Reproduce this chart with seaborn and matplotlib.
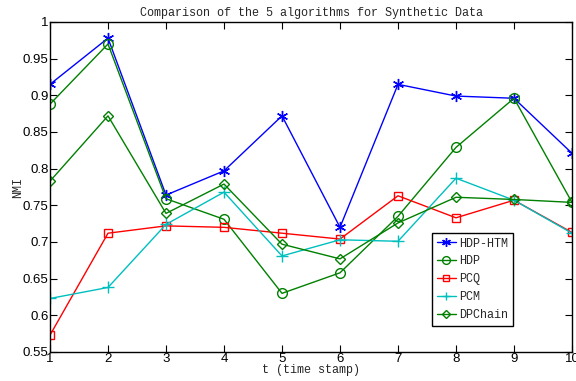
import matplotlib
matplotlib.use("Agg")
import matplotlib.pyplot as plt
import seaborn as sns
import pandas as pd

t = [1, 2, 3, 4, 5, 6, 7, 8, 9, 10]
hdp_htm = [0.915, 0.978, 0.764, 0.797, 0.872, 0.720, 0.915, 0.899, 0.896, 0.821]
hdp = [0.888, 0.970, 0.759, 0.731, 0.630, 0.658, 0.735, 0.829, 0.896, 0.754]
pcq = [0.573, 0.712, 0.722, 0.720, 0.712, 0.704, 0.763, 0.733, 0.757, 0.713]
pcm = [0.623, 0.638, 0.724, 0.768, 0.681, 0.703, 0.701, 0.787, 0.757, 0.712]
dpchain = [0.783, 0.872, 0.739, 0.779, 0.697, 0.677, 0.726, 0.761, 0.758, 0.754]

names = ["HDP-HTM", "HDP", "PCQ", "PCM", "DPChain"]
series = [hdp_htm, hdp, pcq, pcm, dpchain]
colors = ["#0000ff", "#008000", "#ff0000", "#00bfbf", "#008000"]
markers = [(6, 2, 0), "o", "s", "+", "D"]
msizes = [8, 7, 6, 8, 5.5]

sns.set_theme(style="white")
plt.rcParams["font.family"] = ["Liberation Sans", "DejaVu Sans"]
mono = "Liberation Mono"

fig = plt.figure(figsize=(5.76, 3.81), dpi=100)
ax = fig.add_axes([50 / 576, 1 - 352 / 381, 522 / 576, 330 / 381])

for name, vals, c, m, ms in zip(names, series, colors, markers, msizes):
    df = pd.DataFrame({"t": t, "NMI": vals})
    sns.lineplot(data=df, x="t", y="NMI", ax=ax, color=c, marker=m,
                 markersize=ms, markerfacecolor="none", markeredgecolor=c,
                 markeredgewidth=1.0, linewidth=1.0, label=name)

ax.set_xlim(1, 10)
ax.set_ylim(0.55, 1.0)
ax.set_xticks(range(1, 11))
ax.set_yticks([0.55, 0.6, 0.65, 0.7, 0.75, 0.8, 0.85, 0.9, 0.95, 1.0])
ax.set_yticklabels(["0.55", "0.6", "0.65", "0.7", "0.75", "0.8", "0.85",
                    "0.9", "0.95", "1"])
ax.tick_params(direction="in", length=5, width=0.8, top=True, right=True,
               bottom=True, left=True, labelsize=9.5, pad=1, colors="black")
for sp in ax.spines.values():
    sp.set_visible(True)
    sp.set_color("black")
    sp.set_linewidth(1.0)

ax.set_title("Comparison of the 5 algorithms for Synthetic Data",
             fontfamily=mono, fontsize=8.5, pad=4)
ax.set_xlabel("t (time stamp)", fontfamily=mono, fontsize=8.5, labelpad=-1)
ax.set_ylabel("NMI", fontfamily=mono, fontsize=8.5, labelpad=-1)

leg = ax.legend(loc="lower left", bbox_to_anchor=(0.732, 0.079),
                prop={"family": mono, "size": 8.5}, frameon=True,
                fancybox=False, handlelength=1.6, handletextpad=0.3,
                borderpad=0.4, labelspacing=0.5, borderaxespad=0,
                markerscale=0.8)
leg.get_frame().set_edgecolor("black")
leg.get_frame().set_linewidth(1.0)
leg.get_frame().set_alpha(1.0)

fig.savefig("out.png", dpi=100)
